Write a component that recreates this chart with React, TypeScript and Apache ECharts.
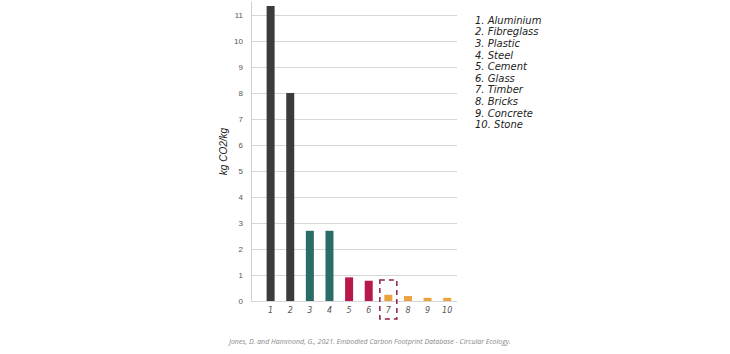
import React, { useEffect, useRef } from "react";
import * as echarts from "echarts";

const categories = ["1", "2", "3", "4", "5", "6", "7", "8", "9", "10"];
const materials = ["Aluminium", "Fibreglass", "Plastic", "Steel", "Cement", "Glass", "Timber", "Bricks", "Concrete", "Stone"];
const values = [11.35, 8.0, 2.7, 2.7, 0.91, 0.78, 0.24, 0.19, 0.12, 0.12];
const barColors = ["#3b3b3b", "#3b3b3b", "#2b6b68", "#2b6b68", "#b8194b", "#b8194b", "#e9a33f", "#e9a33f", "#e9a33f", "#e9a33f"];
const highlighted = 7;
const yAxisName = "kg CO2/kg";
const sourceText = "Jones, D. and Hammond, G., 2021. Embodied Carbon Footprint Database - Circular Ecology.";

export default function App() {
  const ref = useRef<HTMLDivElement>(null);
  useEffect(() => {
    if (!ref.current) return;
    const chart = echarts.init(ref.current, null, { renderer: "svg" });
    chart.setOption({
      animation: false,
      grid: { left: 251, right: 273, top: 2, bottom: 53 },
      xAxis: {
        type: "value",
        min: 0,
        max: 10.5,
        interval: 1,
        axisLine: { show: false },
        axisTick: { show: false },
        splitLine: { show: false },
        axisLabel: {
          showMaxLabel: false,
          margin: 5,
          fontSize: 8,
          fontStyle: "italic",
          fontFamily: "DejaVu Sans",
          color: "#555",
          formatter: (v: number) => (v >= 1 && v <= categories.length && Number.isInteger(v) ? categories[v - 1] : ""),
        },
      },
      yAxis: {
        type: "value",
        min: 0,
        max: 11.5,
        interval: 1,
        name: yAxisName,
        nameLocation: "middle",
        nameGap: 23,
        nameTextStyle: { fontSize: 10, fontStyle: "italic", fontFamily: "Liberation Sans", color: "#222" },
        axisLine: { show: true, lineStyle: { color: "#d0d0d0", width: 1 } },
        axisTick: { show: false },
        splitLine: { show: true, showMaxLine: false, lineStyle: { color: "#d6d6d6", width: 1 } },
        axisLabel: { showMaxLabel: false, fontSize: 8, fontFamily: "Liberation Sans", color: "#555", margin: 8 },
      },
      series: [
        {
          type: "bar",
          barWidth: 8,
          data: values.map((v, i) => ({ value: [i + 1, v], itemStyle: { color: barColors[i] } })),
        },
      ],
    });
    const [cx, y0] = chart.convertToPixel({ gridIndex: 0 }, [highlighted, 0]) as number[];
    chart.setOption({
      graphic: [
        {
          type: "rect",
          shape: { x: cx - 8.5, y: y0 - 21, width: 17, height: 39 },
          style: { fill: "none", stroke: "#8a1f4d", lineWidth: 1.5, lineDash: [5, 4] },
          z: 10,
        },
        {
          type: "text",
          left: 475,
          top: 14.5,
          style: {
            text: materials.map((m, i) => `${i + 1}. ${m}`).join("\n"),
            font: "italic 10px 'DejaVu Sans'",
            fill: "#222",
            lineHeight: 11.6,
          },
        },
        {
          type: "text",
          left: 229,
          top: 338,
          style: { text: sourceText, font: "italic 7px 'Open Sans'", fill: "#888" },
        },
      ],
    });
    return () => chart.dispose();
  }, []);
  return <div ref={ref} style={{ position: "absolute", left: 0, top: 0, width: 730, height: 354 }} />;
}
